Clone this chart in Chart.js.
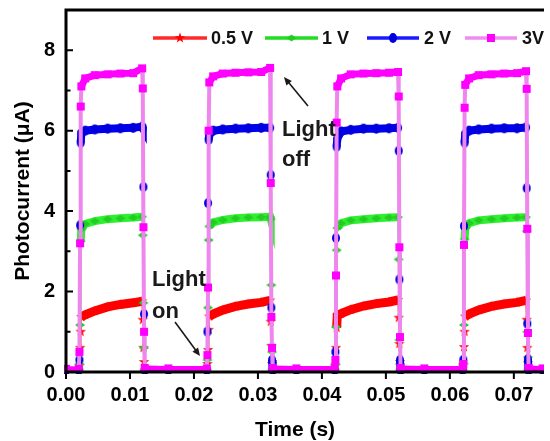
<!DOCTYPE html>
<html>
<head>
<meta charset="utf-8">
<script src="https://cdn.jsdelivr.net/npm/chart.js@4.4.0/dist/chart.umd.min.js"></script>
<style>
  html, body { margin: 0; padding: 0; background: #fff; overflow: hidden; }
  canvas { display: block; }
</style>
</head>
<body>
<canvas id="photo" width="550" height="441"></canvas>
<script>
// time points (s), shared by all four bias voltages
const times = [
  0.0000,
  0.0020, 0.0021, 0.0022, 0.0023, 0.0024, 0.0030, 0.0045, 0.0065, 0.0085, 0.0105, 0.0119, 0.0120, 0.0121, 0.0122, 0.0123, 0.0160,
  0.0220, 0.0221, 0.0222, 0.0223, 0.0224, 0.0230, 0.0245, 0.0265, 0.0285, 0.0305, 0.0319, 0.0320, 0.0321, 0.0322, 0.0323, 0.0360,
  0.0420, 0.0421, 0.0422, 0.0423, 0.0424, 0.0430, 0.0445, 0.0465, 0.0485, 0.0505, 0.0519, 0.0520, 0.0521, 0.0522, 0.0523, 0.0560,
  0.0620, 0.0621, 0.0622, 0.0623, 0.0624, 0.0630, 0.0645, 0.0665, 0.0685, 0.0705, 0.0719, 0.0720, 0.0721, 0.0722, 0.0723, 0.0745
];

// photocurrent (uA)
const current05V = [
  0.03,
  0.03, 0.15, 0.60, 1.00, 1.37, 1.42, 1.52, 1.62, 1.68, 1.72, 1.76, 1.30, 0.60, 0.25, 0.03, 0.03,
  0.03, 0.20, 0.55, 1.05, 1.38, 1.44, 1.54, 1.63, 1.69, 1.73, 1.78, 1.25, 0.65, 0.20, 0.03, 0.03,
  0.03, 0.15, 0.60, 1.10, 1.40, 1.45, 1.55, 1.64, 1.70, 1.74, 1.79, 1.35, 0.70, 0.25, 0.03, 0.03,
  0.03, 0.18, 0.62, 1.00, 1.38, 1.44, 1.54, 1.63, 1.69, 1.73, 1.78, 1.30, 0.60, 0.22, 0.03, 0.03
];
const current1V = [
  0.04,
  0.04, 0.20, 1.17, 3.25, 3.55, 3.68, 3.75, 3.80, 3.82, 3.84, 3.86, 3.40, 1.72, 0.60, 0.04, 0.04,
  0.04, 0.30, 1.60, 3.28, 3.62, 3.72, 3.78, 3.82, 3.84, 3.85, 3.86, 3.80, 2.16, 0.50, 0.04, 0.04,
  0.04, 0.20, 1.12, 3.03, 3.58, 3.70, 3.77, 3.80, 3.82, 3.84, 3.85, 2.80, 0.80, 0.20, 0.04, 0.04,
  0.04, 0.20, 1.17, 3.30, 3.58, 3.70, 3.77, 3.80, 3.82, 3.84, 3.85, 3.50, 1.00, 0.37, 0.04, 0.04
];
const current2V = [
  0.05,
  0.05, 0.30, 3.65, 5.70, 5.94, 6.00, 6.03, 6.05, 6.06, 6.07, 6.10, 6.07, 4.60, 1.44, 0.05, 0.05,
  0.05, 1.00, 4.20, 5.77, 5.90, 6.00, 6.03, 6.05, 6.06, 6.07, 6.07, 4.90, 1.60, 0.30, 0.05, 0.05,
  0.05, 0.50, 3.33, 5.60, 5.80, 5.98, 6.02, 6.05, 6.05, 6.06, 6.07, 5.50, 2.30, 0.30, 0.05, 0.05,
  0.05, 0.30, 3.63, 5.70, 5.92, 6.00, 6.03, 6.05, 6.06, 6.06, 6.08, 4.57, 1.20, 0.32, 0.05, 0.05
];
const current3V = [
  0.08,
  0.08, 0.50, 3.20, 6.60, 7.10, 7.30, 7.38, 7.40, 7.42, 7.43, 7.55, 7.05, 3.60, 1.00, 0.10, 0.09,
  0.09, 0.42, 2.10, 6.00, 7.20, 7.35, 7.42, 7.44, 7.45, 7.46, 7.56, 4.70, 1.37, 0.60, 0.10, 0.09,
  0.09, 0.30, 2.40, 6.20, 7.10, 7.30, 7.40, 7.42, 7.43, 7.44, 7.46, 6.85, 3.10, 0.87, 0.10, 0.09,
  0.09, 0.20, 3.16, 6.57, 7.14, 7.30, 7.38, 7.40, 7.42, 7.43, 7.48, 7.04, 3.56, 0.97, 0.10, 0.09
];

const seriesLabels = ['0.5 V', '1 V', '2 V', '3V'];
const xTicks = [0, 0.01, 0.02, 0.03, 0.04, 0.05, 0.06, 0.07];
const yTicks = [0, 2, 4, 6, 8];
const yMinorTicks = [1, 3, 5, 7];
const xMax = 0.0744;
const yMax = 9;

const FONT = "'Liberation Sans', Arial, sans-serif";

// small canvases used as marker shapes
function makeMarker(kind, color) {
  const c = document.createElement('canvas');
  c.width = 12; c.height = 12;
  const g = c.getContext('2d');
  g.fillStyle = color;
  g.beginPath();
  if (kind === 'square') {
    g.rect(2, 2, 8, 8);
  } else if (kind === 'circle') {
    g.ellipse(6, 6, 4, 5, 0, 0, Math.PI * 2);
  } else if (kind === 'diamond') {
    g.moveTo(6, 2.5); g.lineTo(11, 6); g.lineTo(6, 9.5); g.lineTo(1, 6); g.closePath();
  } else {
    for (let i = 0; i < 10; i++) {
      const r = i % 2 ? 2.2 : 5.5;
      const a = -Math.PI / 2 + i * Math.PI / 5;
      g.lineTo(6 + r * Math.cos(a), 6 + r * Math.sin(a));
    }
    g.closePath();
  }
  g.fill();
  return c;
}

const styles = [
  { band: '#ff0000', line: '#ff2a2a', bandW: 9, lineW: 1.5, darkW: 3, marker: makeMarker('star', '#ff0000') },
  { band: '#30ee30', line: '#22dd22', bandW: 8, lineW: 1.5, darkW: 3, marker: makeMarker('diamond', '#22cc22') },
  { band: '#0000ee', line: '#1a1aff', bandW: 8, lineW: 1.5, darkW: 3, marker: makeMarker('circle', '#0000dd') },
  { band: '#ff00ff', line: '#ee86ee', bandW: 7, lineW: 4, darkW: 5, marker: makeMarker('square', '#ff00ff') }
];
const allSeries = [current05V, current1V, current2V, current3V];

const datasets = allSeries.map((vals, i) => {
  const s = styles[i];
  const jump = c => Math.abs(c.p1.parsed.y - c.p0.parsed.y) >= 0.3;
  return {
    label: seriesLabels[i],
    data: times.map((t, j) => ({ x: t, y: vals[j] })),
    borderColor: s.line,
    borderWidth: s.lineW,
    pointStyle: s.marker,
    pointRadius: 4,
    order: 3 - i,
    clip: 2,
    segment: {
      borderWidth: c => jump(c) ? s.lineW : (c.p0.parsed.y < 0.3 ? s.darkW : s.bandW),
      borderColor: c => jump(c) ? s.line : s.band
    }
  };
});

function arrow(ctx, x1, y1, x2, y2) {
  const a = Math.atan2(y2 - y1, x2 - x1);
  ctx.beginPath();
  ctx.moveTo(x1, y1);
  ctx.lineTo(x2 - 5 * Math.cos(a), y2 - 5 * Math.sin(a));
  ctx.stroke();
  ctx.beginPath();
  ctx.moveTo(x2, y2);
  ctx.lineTo(x2 - 8 * Math.cos(a) + 3.5 * Math.sin(a), y2 - 8 * Math.sin(a) - 3.5 * Math.cos(a));
  ctx.lineTo(x2 - 8 * Math.cos(a) - 3.5 * Math.sin(a), y2 - 8 * Math.sin(a) + 3.5 * Math.cos(a));
  ctx.closePath();
  ctx.fill();
}

const framePlugin = {
  id: 'frame',
  afterDraw(chart) {
    const ctx = chart.ctx;
    const { left, right, top, bottom } = chart.chartArea;
    const xs = chart.scales.x, ys = chart.scales.y;
    ctx.save();
    ctx.strokeStyle = '#000';
    ctx.fillStyle = '#000';
    // axes and top frame
    ctx.lineWidth = 3;
    ctx.beginPath();
    ctx.moveTo(right + 2, top); ctx.lineTo(left, top); ctx.lineTo(left, bottom); ctx.lineTo(right + 2, bottom);
    ctx.stroke();
    // tick marks
    ctx.lineWidth = 2;
    ctx.beginPath();
    yTicks.forEach(v => { const y = ys.getPixelForValue(v); ctx.moveTo(left, y); ctx.lineTo(left + 7, y); });
    yMinorTicks.forEach(v => { const y = ys.getPixelForValue(v); ctx.moveTo(left, y); ctx.lineTo(left + 4.5, y); });
    xTicks.forEach(v => { const x = xs.getPixelForValue(v); ctx.moveTo(x, bottom); ctx.lineTo(x, bottom + 7); });
    ctx.stroke();

    // x axis title, centred a little left of the cropped axis like the original
    ctx.font = 'bold 21px ' + FONT;
    ctx.textAlign = 'center';
    ctx.textBaseline = 'middle';
    ctx.fillText('Time (s)', 295, 430);

    // legend inside plot
    const items = [
      { x1: 153, x2: 207, tx: 211 },
      { x1: 265, x2: 318, tx: 322 },
      { x1: 367, x2: 419, tx: 424 },
      { x1: 465, x2: 517, tx: 522 }
    ];
    const ly = 38;
    ctx.font = 'bold 18px ' + FONT;
    ctx.textAlign = 'left';
    items.forEach((it, i) => {
      const s = styles[i];
      ctx.strokeStyle = i === 3 ? '#f08cf0' : s.line;
      ctx.lineWidth = 3.5;
      ctx.beginPath(); ctx.moveTo(it.x1, ly); ctx.lineTo(it.x2, ly); ctx.stroke();
      ctx.drawImage(s.marker, (it.x1 + it.x2) / 2 - 6, ly - 6);
      ctx.fillStyle = '#111';
      ctx.fillText(seriesLabels[i], it.tx, ly + 1);
    });

    // light on / off notes
    ctx.fillStyle = '#1a1a1a';
    ctx.strokeStyle = '#1a1a1a';
    ctx.font = 'bold 22px ' + FONT;
    ctx.textBaseline = 'alphabetic';
    ctx.fillText('Light', 282, 136);
    ctx.fillText('off', 282, 166);
    ctx.fillText('Light', 152, 286);
    ctx.fillText('on', 152, 318);
    ctx.lineWidth = 1.6;
    arrow(ctx, 308, 106, 284, 77);
    arrow(ctx, 175, 322, 200, 356);
    ctx.restore();
  }
};

const tickFont = { family: FONT, size: 20, weight: 'bold' };
const titleFont = { family: FONT, size: 21, weight: 'bold', lineHeight: 1 };

new Chart(document.getElementById('photo'), {
  type: 'line',
  data: { datasets: datasets },
  options: {
    responsive: false,
    animation: false,
    layout: { padding: { top: 10, right: 0, bottom: 0, left: 0 } },
    plugins: { legend: { display: false }, tooltip: { enabled: false } },
    scales: {
      x: {
        type: 'linear',
        min: 0,
        max: xMax,
        afterBuildTicks: s => { s.ticks = xTicks.map(v => ({ value: v })); },
        afterFit: s => { s.height = 69; },
        grid: { display: false, drawTicks: false },
        border: { display: false },
        ticks: { callback: v => v.toFixed(2), font: tickFont, color: '#000', padding: 11, maxRotation: 0, autoSkip: false },
        title: { display: false }
      },
      y: {
        min: 0,
        max: yMax,
        afterBuildTicks: s => { s.ticks = yTicks.map(v => ({ value: v })); },
        afterFit: s => { s.width = 66; s.paddingTop = 0; s.paddingBottom = 0; },
        grid: { display: false, drawTicks: false },
        border: { display: false },
        ticks: { font: tickFont, color: '#000', padding: 11 },
        title: { display: true, text: 'Photocurrent (\u03bcA)', font: titleFont, color: '#000', padding: { top: 13, bottom: 0 } }
      }
    }
  },
  plugins: [framePlugin]
});
</script>
</body>
</html>
